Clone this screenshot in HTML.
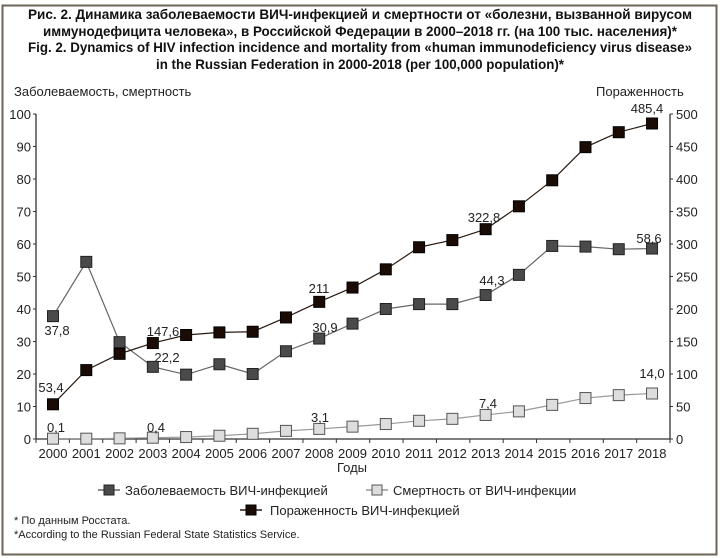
<!DOCTYPE html>
<html><head><meta charset="utf-8"><style>
body{margin:0;background:#fff}
svg{display:block;font-family:"Liberation Sans",sans-serif}
</style></head><body>
<svg id="s" width="720" height="558" xmlns="http://www.w3.org/2000/svg">
<rect x="2.5" y="5.5" width="714" height="549" fill="#fff" stroke="#6b6458" stroke-width="2"/>
<g font-weight="bold" font-size="14" text-anchor="middle" fill="#111" style="font-family:'Liberation Sans Narrow','Liberation Sans',sans-serif">
<text x="360" y="19" textLength="664" lengthAdjust="spacingAndGlyphs">Рис. 2. Динамика заболеваемости ВИЧ-инфекцией и смертности от «болезни, вызванной вирусом</text>
<text x="360" y="36" textLength="634" lengthAdjust="spacingAndGlyphs">иммунодефицита человека», в Российской Федерации в 2000–2018 гг. (на 100 тыс. населения)*</text>
<text x="360" y="52" textLength="664" lengthAdjust="spacingAndGlyphs">Fig. 2. Dynamics of HIV infection incidence and mortality from «human immunodeficiency virus disease»</text>
<text x="360" y="69" textLength="408" lengthAdjust="spacingAndGlyphs">in the Russian Federation in 2000-2018 (per 100,000 population)*</text>
</g>
<text x="14" y="96" font-size="13" fill="#222">Заболеваемость, смертность</text>
<text x="596" y="96" font-size="13" fill="#222">Пораженность</text>
<g id="g"></g>
<g font-size="13" fill="#222" style="font-family:'Liberation Sans Narrow','Liberation Sans',sans-serif">
<text x="352" y="472" text-anchor="middle">Годы</text>
<text x="125" y="495">Заболеваемость ВИЧ-инфекцией</text>
<text x="393" y="495">Смертность от ВИЧ-инфекции</text>
<text x="270" y="515">Пораженность ВИЧ-инфекцией</text>
<text x="14" y="524" font-size="11">* По данным Росстата.</text>
<text x="14" y="538" font-size="11">*According to the Russian Federal State Statistics Service.</text>
</g>
</svg>
<script>
var g=document.getElementById('g'),h='';
function X(i){return 53+i*33.28}
function YL(v){return 439-v*3.25}
function YR(v){return 439-v*0.65}
h+='<line x1="36" y1="114" x2="36" y2="439" stroke="#333" stroke-width="1.3"/>';
h+='<line x1="670" y1="114" x2="670" y2="439" stroke="#333" stroke-width="1.3"/>';
h+='<line x1="36" y1="439" x2="670" y2="439" stroke="#333" stroke-width="1.3"/>';
for(var k=0;k<=10;k++){var y=YL(k*10);h+='<line x1="33" y1="'+y+'" x2="36" y2="'+y+'" stroke="#333"/><text x="31" y="'+(y+5)+'" font-size="13" text-anchor="end" fill="#222">'+k*10+'</text>';
h+='<line x1="670" y1="'+y+'" x2="673" y2="'+y+'" stroke="#333"/><text x="676" y="'+(y+5)+'" font-size="13" fill="#222">'+k*50+'</text>';}
for(var i=0;i<=19;i++){var x=36+i*33.37;h+='<line x1="'+x+'" y1="439" x2="'+x+'" y2="443" stroke="#333"/>';}
for(var i=0;i<19;i++)h+='<text x="'+X(i)+'" y="458" font-size="13" text-anchor="middle" fill="#222" style="font-family:\'Liberation Sans Narrow\',\'Liberation Sans\',sans-serif">'+(2000+i)+'</text>';
var inc=[37.8,54.5,29.8,22.2,19.8,23,20,27,30.9,35.5,40,41.5,41.5,44.3,50.5,59.4,59.2,58.4,58.6];
var mor=[0.1,0.1,0.2,0.4,0.6,1.0,1.6,2.5,3.1,3.8,4.6,5.6,6.2,7.4,8.5,10.5,12.6,13.5,14.0];
var pre=[53.4,106,131,147.6,160,164,165,187,211,233,261,295,306,322.8,358,398,449,472,485.4];
function ser(d,f,line,fill,st){var p=d.map(function(v,i){return X(i)+','+f(v)}).join(' ');
var s='<polyline points="'+p+'" fill="none" stroke="'+line+'" stroke-width="1.2"/>';
d.forEach(function(v,i){s+='<rect x="'+(X(i)-5.5)+'" y="'+(f(v)-5.5)+'" width="11" height="11" fill="'+fill+'" stroke="'+st+'" stroke-width="1"/>'});return s;}
h+=ser(mor,YL,'#999','#ddd','#555');
h+=ser(inc,YL,'#666','#4a4a4a','#222');
h+=ser(pre,YR,'#2a1a10','#1a0c05','#000');
var L=[[57,335,'37,8'],[51,392,'53,4'],[56,432,'0,1'],[163,336,'147,6'],[167,362,'22,2'],[156,432,'0,4'],[319,293,'211'],[325,332,'30,9'],[320,422,'3,1'],[484,222,'322,8'],[492,285,'44,3'],[488,408,'7,4'],[647,113,'485,4'],[649,243,'58,6'],[652,378,'14,0']];
L.forEach(function(l){h+='<text x="'+l[0]+'" y="'+l[1]+'" font-size="13" text-anchor="middle" fill="#222">'+l[2]+'</text>'});
function leg(x,y,fill,st,line){return '<line x1="'+x+'" y1="'+y+'" x2="'+(x+22)+'" y2="'+y+'" stroke="'+line+'" stroke-width="1.5"/><rect x="'+(x+6)+'" y="'+(y-5)+'" width="10" height="10" fill="'+fill+'" stroke="'+st+'"/>';}
h+=leg(98,490,'#4a4a4a','#222','#666');
h+=leg(366,490,'#ddd','#555','#999');
h+=leg(240,510,'#1a0c05','#000','#2a1a10');
g.innerHTML=h;
</script>
</body></html>
